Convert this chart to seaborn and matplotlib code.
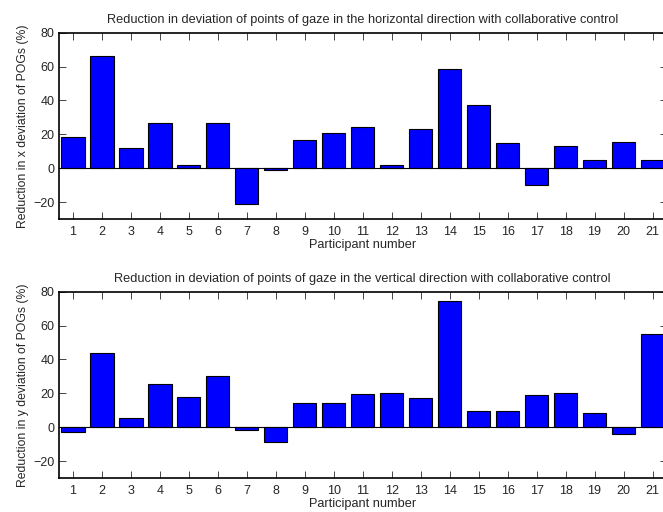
import pandas as pd
import matplotlib
matplotlib.use("Agg")
import matplotlib.pyplot as plt
import seaborn as sns

# Данные: снижение отклонения точек взгляда (%) по участникам
participants = list(range(1, 22))
x_reduction = [18.6, 66.5, 12.2, 26.9, 2.0, 26.5, -21.2, -1.0, 16.9, 20.8,
               24.3, 2.0, 23.3, 58.6, 37.3, 14.9, -10.0, 13.3, 4.9, 15.5, 5.1]
y_reduction = [-2.8, 44.0, 5.7, 25.7, 18.0, 30.1, -1.8, -8.9, 14.5, 14.3,
               19.6, 20.2, 17.2, 74.5, 9.3, 9.3, 19.2, 20.2, 8.5, -4.0, 55.2]

titles = [
    "Reduction in deviation of points of gaze in the horizontal direction with collaborative control",
    "Reduction in deviation of points of gaze in the vertical direction with collaborative control",
]
ylabels = [
    "Reduction in x deviation of POGs (%)",
    "Reduction in y deviation of POGs (%)",
]

sns.set_style("ticks")
plt.rcParams["font.family"] = ["Liberation Sans", "DejaVu Sans"]

fig = plt.figure(figsize=(6.63, 5.12), dpi=100)
# оси специально выходят за правый край, как в оригинале
ax1 = fig.add_axes([58.5 / 663, 1 - 219 / 512, 608.5 / 663, 186.3 / 512])
ax2 = fig.add_axes([58.5 / 663, 1 - 478 / 512, 608.5 / 663, 186.3 / 512])

for ax, vals, title, ylabel in zip([ax1, ax2], [x_reduction, y_reduction], titles, ylabels):
    df = pd.DataFrame({"participant": participants, "value": vals})
    sns.barplot(data=df, x="participant", y="value", ax=ax, color="#0000ff",
                saturation=1, width=0.8, edgecolor="black", linewidth=0.8)
    ax.axhline(0, color="black", linewidth=0.8, zorder=3)
    ax.set_xlim(-0.5, 20.5)
    ax.set_ylim(-30, 80)
    ax.set_yticks([-20, 0, 20, 40, 60, 80])
    ax.set_title(title, fontsize=9.2, pad=7)
    ax.set_xlabel("Participant number", fontsize=9.2, labelpad=0.5)
    ax.set_ylabel(ylabel, fontsize=8.8, labelpad=3)
    ax.tick_params(direction="in", top=True, right=True, length=5, width=0.6,
                   labelsize=9, pad=5)
    ax.tick_params(axis="y", pad=3)
    for s in ax.spines.values():
        s.set_linewidth(1.2)
        s.set_color("black")

fig.savefig("out.png", dpi=100)
